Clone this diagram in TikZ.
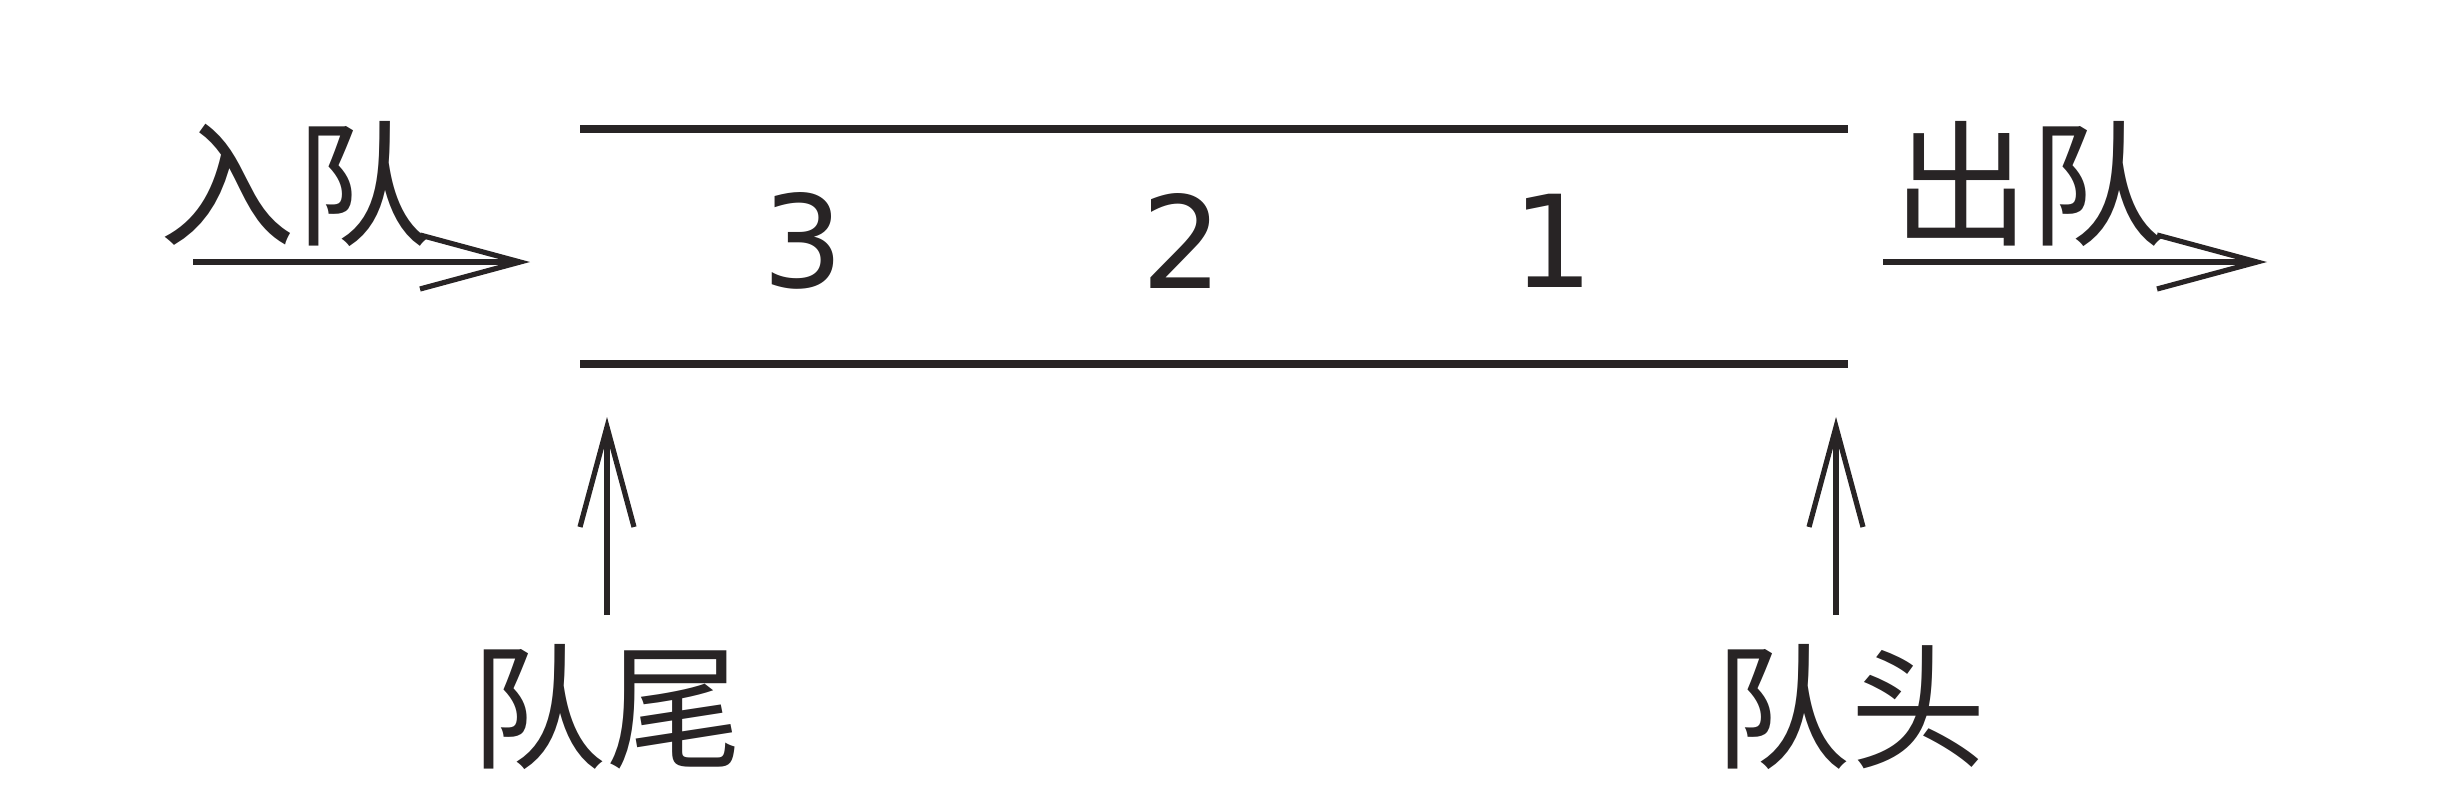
\documentclass[tikz,border=0pt]{standalone}
\usepackage{fontspec}
\newfontfamily\cjkfont{Noto Sans CJK SC}
\newfontfamily\digitfont{DejaVu Sans}
\usetikzlibrary{arrows.meta}
\definecolor{ink}{RGB}{40,36,37}
\tikzset{
  lbl/.style={inner sep=0pt, text=ink, font=\cjkfont\fontsize{34}{34}\selectfont},
  num/.style={inner sep=0pt, text=ink, font=\digitfont\fontsize{32}{32}\selectfont},
  wall/.style={draw=ink, line width=1.8pt},
  flow/.style={draw=ink, line width=1.3pt, -{Straight Barb[length=25pt,width=13.5pt,line width=1.3pt]}},
}
\begin{document}
\begin{tikzpicture}[x=0.25pt,y=-0.25pt]
\useasboundingbox (0,0) rectangle (2460,792);
% queue walls
\coordinate (tl) at (580,129);
\coordinate (tr) at (1848,129);
\coordinate (bl) at (580,364);
\coordinate (br) at (1848,364);
\draw[wall] (tl) -- (tr);
\draw[wall] (bl) -- (br);
% elements
\node[num] (n3) at (803,241) {3};
\node[num] (n2) at (1182,241) {2};
\node[num] (n1) at (1553,241) {1};
% enqueue
\node[lbl] (enq) at (295,184) {入队};
\coordinate (enqS) at (193,262);
\coordinate (enqE) at (530,262);
\draw[flow] (enqS) -- (enqE);
% dequeue
\node[lbl] (deq) at (2029,184) {出队};
\coordinate (deqS) at (1883,262);
\coordinate (deqE) at (2267,262);
\draw[flow] (deqS) -- (deqE);
% rear / front
\node[lbl] (rear) at (606,707) {队尾};
\node[lbl] (front) at (1850,707) {队头};
\coordinate (rearS) at (607,615);
\coordinate (rearE) at (607,417);
\coordinate (frontS) at (1836,615);
\coordinate (frontE) at (1836,417);
\draw[flow] (rearS) -- (rearE);
\draw[flow] (frontS) -- (frontE);
\end{tikzpicture}
\end{document}
